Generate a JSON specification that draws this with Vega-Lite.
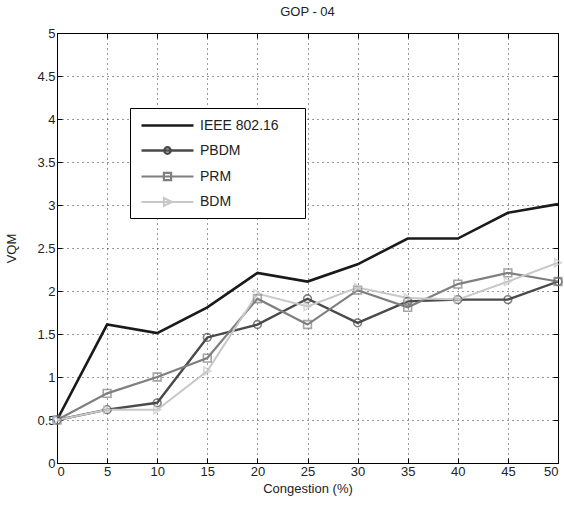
{
  "$schema": "https://vega.github.io/schema/vega-lite/v6.json",
  "autosize": "none",
  "width": 501,
  "height": 430,
  "padding": {"left": 57, "top": 33, "right": 6, "bottom": 47},
  "background": "white",
  "title": {"text": "GOP - 04", "fontSize": 13, "fontWeight": "normal", "font": "Liberation Sans Narrow, Liberation Sans, Arial", "color": "#222", "offset": 8},
  "config": {
    "font": "Liberation Sans Narrow, Liberation Sans, Arial",
    "view": {"stroke": "#000", "strokeWidth": 1},
    "axis": {"labelFontSize": 13, "titleFontSize": 13, "titleFontWeight": "normal", "labelColor": "#222", "titleColor": "#222", "domainColor": "#000", "tickColor": "#000", "tickSize": -5, "labelPadding": 7}
  },
  "data": {"values": [
    {"x": 0, "s": "IEEE 802.16", "v": 0.5}, {"x": 5, "s": "IEEE 802.16", "v": 1.61}, {"x": 10, "s": "IEEE 802.16", "v": 1.51}, {"x": 15, "s": "IEEE 802.16", "v": 1.81}, {"x": 20, "s": "IEEE 802.16", "v": 2.21}, {"x": 25, "s": "IEEE 802.16", "v": 2.11}, {"x": 30, "s": "IEEE 802.16", "v": 2.31}, {"x": 35, "s": "IEEE 802.16", "v": 2.61}, {"x": 40, "s": "IEEE 802.16", "v": 2.61}, {"x": 45, "s": "IEEE 802.16", "v": 2.91}, {"x": 50, "s": "IEEE 802.16", "v": 3.01},
    {"x": 0, "s": "PBDM", "v": 0.5}, {"x": 5, "s": "PBDM", "v": 0.62}, {"x": 10, "s": "PBDM", "v": 0.7}, {"x": 15, "s": "PBDM", "v": 1.46}, {"x": 20, "s": "PBDM", "v": 1.61}, {"x": 25, "s": "PBDM", "v": 1.91}, {"x": 30, "s": "PBDM", "v": 1.63}, {"x": 35, "s": "PBDM", "v": 1.88}, {"x": 40, "s": "PBDM", "v": 1.9}, {"x": 45, "s": "PBDM", "v": 1.9}, {"x": 50, "s": "PBDM", "v": 2.11},
    {"x": 0, "s": "PRM", "v": 0.5}, {"x": 5, "s": "PRM", "v": 0.81}, {"x": 10, "s": "PRM", "v": 1.0}, {"x": 15, "s": "PRM", "v": 1.22}, {"x": 20, "s": "PRM", "v": 1.91}, {"x": 25, "s": "PRM", "v": 1.61}, {"x": 30, "s": "PRM", "v": 2.01}, {"x": 35, "s": "PRM", "v": 1.81}, {"x": 40, "s": "PRM", "v": 2.08}, {"x": 45, "s": "PRM", "v": 2.21}, {"x": 50, "s": "PRM", "v": 2.11},
    {"x": 0, "s": "BDM", "v": 0.5}, {"x": 5, "s": "BDM", "v": 0.62}, {"x": 10, "s": "BDM", "v": 0.62}, {"x": 15, "s": "BDM", "v": 1.07}, {"x": 20, "s": "BDM", "v": 1.97}, {"x": 25, "s": "BDM", "v": 1.82}, {"x": 30, "s": "BDM", "v": 2.04}, {"x": 35, "s": "BDM", "v": 1.92}, {"x": 40, "s": "BDM", "v": 1.9}, {"x": 45, "s": "BDM", "v": 2.11}, {"x": 50, "s": "BDM", "v": 2.33}
  ]},
  "resolve": {"axis": {"x": "independent", "y": "independent"}},
  "layer": [
    {
      "mark": {"type": "line", "clip": true},
      "encoding": {
        "x": {"field": "x", "type": "quantitative", "scale": {"domain": [0, 50], "nice": false, "zero": false},
          "axis": {"title": "Congestion (%)", "values": [0,5,10,15,20,25,30,35,40,45,50], "grid": true, "gridColor": "#000", "gridDash": [1, 4], "gridOpacity": 0.8, "titlePadding": 4}},
        "y": {"field": "v", "type": "quantitative", "scale": {"domain": [0, 5], "nice": false},
          "axis": {"title": "VQM", "values": [0,0.5,1,1.5,2,2.5,3,3.5,4,4.5,5], "format": "~g", "grid": true, "gridColor": "#000", "gridDash": [1, 4], "gridOpacity": 0.8, "titlePadding": 18}},
        "color": {"field": "s", "type": "nominal", "sort": null,
          "scale": {"domain": ["IEEE 802.16", "PBDM", "PRM", "BDM"], "range": ["#1a1a1a", "#4a4a4a", "#7f7f7f", "#c8c8c8"]},
          "legend": {"title": null, "orient": "none", "legendX": 73, "legendY": 75, "strokeColor": "#000", "fillColor": "white", "padding": 8,
            "symbolSize": 256, "symbolOffset": 20, "labelOffset": 23, "labelFontSize": 14, "labelColor": "#222", "rowPadding": 8, "symbolStrokeWidth": 2,
            "labelExpr": "datum.label + '\u2003\u2005\u200b'",
            "encode": {"symbols": {"update": {
              "fill": {"value": "transparent"},
              "shape": {"signal": "datum.value === 'IEEE 802.16' ? 'M-3.25,0L3.25,0' : datum.value === 'PBDM' ? 'M-3.25,0L3.25,0M0.4,0A0.4,0.4,0,1,1,-0.4,0A0.4,0.4,0,1,1,0.4,0' : datum.value === 'PRM' ? 'M-3.25,0L3.25,0M-0.45,-0.45L0.45,-0.45L0.45,0.45L-0.45,0.45Z' : 'M-3.25,0L3.25,0M-0.45,-0.5L0.55,0L-0.45,0.5Z'"}
            }}}}},
        "strokeWidth": {"field": "s", "type": "nominal", "scale": {"domain": ["IEEE 802.16", "PBDM", "PRM", "BDM"], "range": [2.6, 2, 2, 2]}, "legend": null}
      }
    },
    {
      "transform": [{"filter": "datum.s !== 'IEEE 802.16'"}],
      "mark": {"type": "point", "filled": false, "strokeWidth": 1.6, "size": 60},
      "encoding": {
        "x": {"field": "x", "type": "quantitative", "scale": {"domain": [0, 50], "nice": false, "zero": false}, "axis": null},
        "y": {"field": "v", "type": "quantitative", "scale": {"domain": [0, 5], "nice": false}, "axis": null},
        "color": {"field": "s", "type": "nominal", "legend": null},
        "shape": {"field": "s", "type": "nominal", "scale": {"domain": ["PBDM", "PRM", "BDM"], "range": ["circle", "square", "triangle-right"]}, "legend": null}
      }
    },
    {
      "mark": {"type": "point", "opacity": 0},
      "encoding": {
        "x": {"field": "x", "type": "quantitative", "scale": {"domain": [0, 50], "nice": false, "zero": false},
          "axis": {"orient": "top", "title": null, "labels": false, "values": [0,5,10,15,20,25,30,35,40,45,50], "grid": false}},
        "y": {"field": "v", "type": "quantitative", "scale": {"domain": [0, 5], "nice": false},
          "axis": {"orient": "right", "title": null, "labels": false, "values": [0,0.5,1,1.5,2,2.5,3,3.5,4,4.5,5], "grid": false}}
      }
    }
  ]
}
